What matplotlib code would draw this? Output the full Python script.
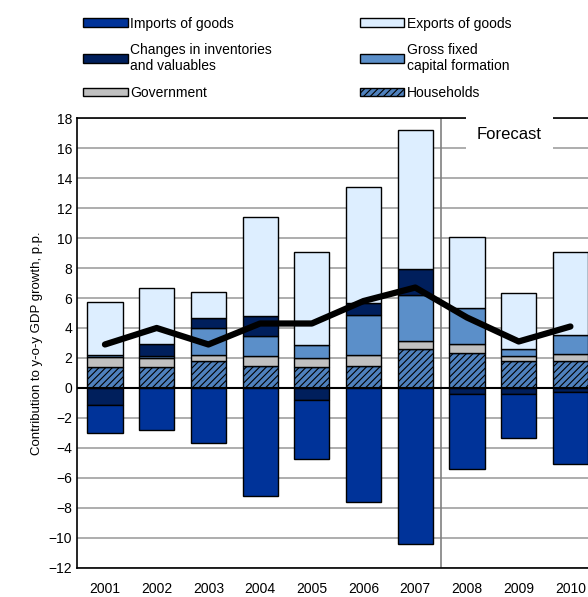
import matplotlib
matplotlib.use("Agg")
import matplotlib.pyplot as plt
import numpy as np
from matplotlib.patches import Patch

years = ["2001","2002","2003","2004","2005","2006","2007","2008","2009","2010"]
households = [1.38,1.38,1.82,1.47,1.38,1.47,2.60,2.33,1.82,1.82]
government = [0.70,0.62,0.38,0.64,0.62,0.75,0.56,0.58,0.29,0.42]
gfcf       = [0.15,0.15,1.78,1.33,0.87,2.65,3.02,2.40,0.49,1.29]
inventories= [-1.16,0.78,0.69,1.34,-0.80,0.80,1.78,-0.38,-0.38,-0.30]
exports    = [3.50,3.71,1.75,6.66,6.17,7.77,9.22,4.73,3.71,5.51]
imports    = [-1.84,-2.82,-3.67,-7.18,-3.93,-7.62,-10.44,-5.04,-2.95,-4.80]
gdp        = [2.9,4.0,2.9,4.3,4.3,5.8,6.7,4.7,3.1,4.1]

plt.rcParams['font.family'] = ['Liberation Sans', 'DejaVu Sans']
plt.rcParams['hatch.linewidth'] = 0.8
fig = plt.figure(figsize=(5.88,5.97), dpi=100)
ax = fig.add_axes([0.131, 0.049, 0.869, 0.753])
x = np.arange(len(years))
w = 0.68
ec = 'black'; lw = 1.0
c_imp='#003399'; c_exp='#ddeeff'; c_inv='#001f5c'; c_gf='#5b8fc9'; c_gov='#c0c0c0'; c_hh='#4f81bd'

pos = np.zeros(len(x)); neg = np.zeros(len(x))
def stack(vals, color, hatch=None):
    global pos, neg
    v = np.array(vals)
    bottom = np.where(v >= 0, pos, neg)
    ax.bar(x, v, w, bottom=bottom, color=color, edgecolor=ec, linewidth=lw, hatch=hatch, zorder=3)
    pos = pos + np.where(v >= 0, v, 0); neg = neg + np.where(v < 0, v, 0)

stack(households, c_hh, '/////')
stack(government, c_gov)
stack(gfcf, c_gf)
stack(inventories, c_inv)
stack(exports, c_exp)
stack(imports, c_imp)
ax.plot(x, gdp, color='black', lw=4.5, zorder=5, solid_capstyle='round')
ax.axhline(0, color='black', lw=1.5, zorder=4)
ax.axvline(6.5, color='#808080', lw=1.2, zorder=2)
ax.text(7.82, 16.9, 'Forecast', fontsize=12, ha='center', va='center',
        bbox=dict(facecolor='white', edgecolor='none', pad=8), zorder=4)

ax.set_xlim(-0.54, 9.34)
ax.set_ylim(-12, 18)
ax.set_yticks(range(-12, 19, 2))
ax.yaxis.grid(True, color='#a0a0a0', lw=1.2, zorder=0)
ax.set_xticks(x); ax.set_xticklabels(years)
ax.tick_params(axis='both', length=0, labelsize=10)
ax.tick_params(axis='x', pad=10)
ax.spines['right'].set_visible(False)
for s in ['left','top','bottom']:
    ax.spines[s].set_linewidth(1.2)
ax.set_ylabel('Contribution to y-o-y GDP growth, p.p.', fontsize=9.5)

handles = [Patch(facecolor=c_imp, edgecolor=ec), Patch(facecolor=c_inv, edgecolor=ec),
           Patch(facecolor=c_gov, edgecolor=ec), Patch(facecolor=c_exp, edgecolor=ec),
           Patch(facecolor=c_gf, edgecolor=ec), Patch(facecolor=c_hh, edgecolor=ec, hatch='/////')]
labels = ['Imports of goods', 'Changes in inventories\nand valuables', 'Government',
          'Exports of goods', 'Gross fixed\ncapital formation', 'Households']
fig.legend(handles, labels, ncol=2, loc='upper left', bbox_to_anchor=(0.12, 0.993),
           frameon=False, fontsize=10, handlelength=3.2, handleheight=0.6,
           columnspacing=6.3, labelspacing=0.9, handletextpad=0.2)
fig.savefig('out.png', dpi=100)
